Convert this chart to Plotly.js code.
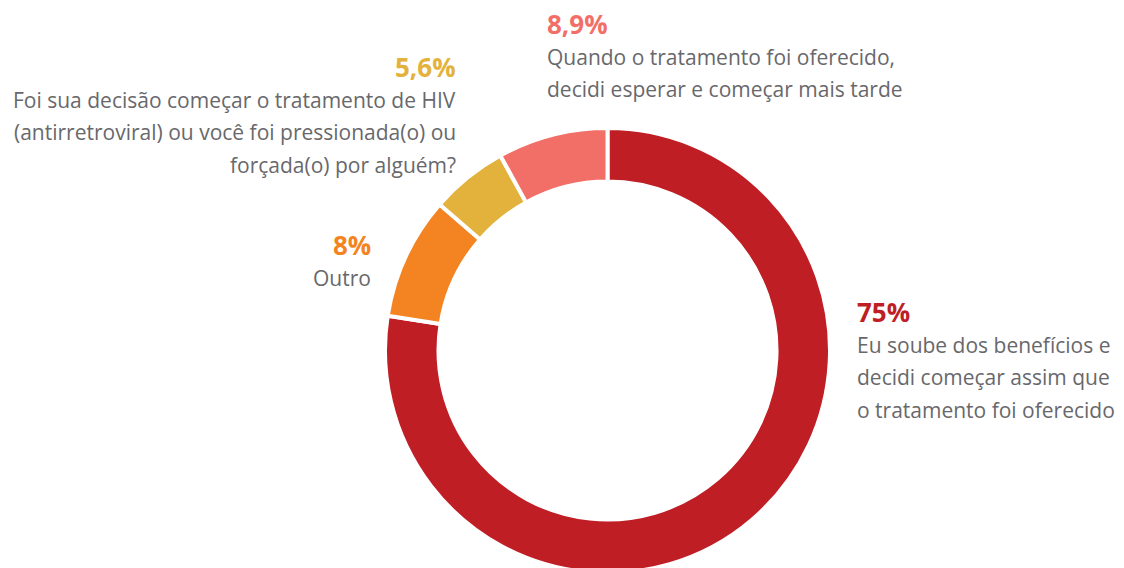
<!DOCTYPE html>
<html>
<head>
<meta charset="utf-8">
<script src="https://cdn.plot.ly/plotly-3.0.1.min.js"></script>
<style>
html,body{margin:0;padding:0;overflow:hidden;background:#fff;}
#chart{width:1124px;height:573px;}
</style>
</head>
<body>
<div id="chart"></div>
<script>
const categories = [
  "Eu soube dos benefícios e decidi começar assim que o tratamento foi oferecido",
  "Outro",
  "Foi sua decisão começar o tratamento de HIV (antirretroviral) ou você foi pressionada(o) ou forçada(o) por alguém?",
  "Quando o tratamento foi oferecido, decidi esperar e começar mais tarde"
];
const values = [77.5, 8.9, 5.6, 8.0];
const pctLabels = ["75%", "8%", "5,6%", "8,9%"];
const labelLines = [
  ["Eu soube dos benefícios e", "decidi começar assim que", "o tratamento foi oferecido"],
  ["Outro"],
  ["Foi sua decisão começar o tratamento de HIV", "(antirretroviral) ou você foi pressionada(o) ou", "forçada(o) por alguém?"],
  ["Quando o tratamento foi oferecido,", "decidi esperar e começar mais tarde"]
];
const colors = ["#BE1E24", "#F38421", "#E3B23C", "#F26F68"];

const W = 1124, H = 573;
const FONT = "Open Sans, sans-serif";
const textColor = "#68686b";

const labelPos = [
  {x: 855, y: 312, align: "left"},
  {x: 373, y: 245, align: "right"},
  {x: 458, y: 67, align: "right"},
  {x: 545, y: 24, align: "left"}
];

function py(p){ return 1 - p / H; }
function px(p){ return p / W; }

const annotations = [];
pctLabels.forEach((t, i) => {
  const pos = labelPos[i];
  annotations.push({
    text: "<b>" + t + "</b>", xref: "paper", yref: "paper",
    x: px(pos.x), y: py(pos.y), xanchor: pos.align, yanchor: "middle",
    showarrow: false, align: pos.align,
    font: {family: FONT, size: 26, color: colors[i]}
  });
  labelLines[i].forEach((ln, j) => {
    annotations.push({
      text: ln, xref: "paper", yref: "paper",
      x: px(pos.x), y: py(pos.y + 33 + 32.3 * j), xanchor: pos.align, yanchor: "middle",
      showarrow: false, align: pos.align,
      font: {family: FONT, size: 21, color: textColor}
    });
  });
});

const R = 222.5, cx = 607.5, cy = 350.5;
const trace = {
  type: "pie",
  labels: categories,
  values: values,
  sort: false,
  direction: "clockwise",
  rotation: 0,
  hole: 0.7596,
  textinfo: "none",
  hoverinfo: "label+percent",
  marker: {colors: colors, line: {color: "#ffffff", width: 4}},
  domain: {x: [(cx - R) / W, (cx + R) / W], y: [(H - cy - R) / H, (H - cy + R) / H]},
  showlegend: false
};

Plotly.newPlot("chart", [trace], {
  width: W, height: H,
  margin: {l: 0, r: 0, t: 0, b: 0},
  paper_bgcolor: "#fff",
  showlegend: false,
  annotations: annotations
}, {displayModeBar: false, staticPlot: true});
</script>
</body>
</html>
